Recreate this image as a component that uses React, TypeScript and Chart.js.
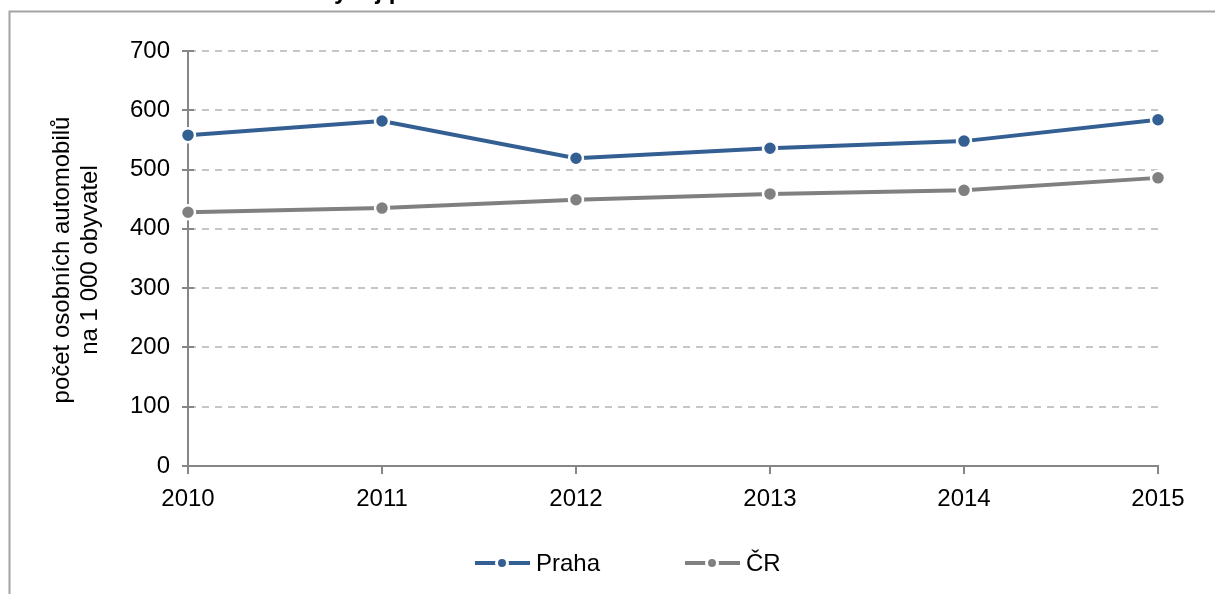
import { useEffect, useRef } from "react";
import { Chart, registerables } from "chart.js";

Chart.register(...registerables);

const years: string[] = ["2010", "2011", "2012", "2013", "2014", "2015"];
const prahaValues: number[] = [558, 582, 519, 536, 548, 584];
const crValues: number[] = [428, 435, 449, 459, 465, 486];
const seriesNames: string[] = ["Praha", "ČR"];
const seriesColors: string[] = ["#335f93", "#808080"];
const yTitleLines: string[] = ["počet osobních automobilů", "na 1 000 obyvatel"];
const chartTitle = "Vývoj počtu osobních automobilů v Praze a ČR";
const yMin = 0;
const yMax = 700;
const yStep = 100;

const FONT = "'Liberation Sans', Arial, sans-serif";
const AXIS_COLOR = "#868686";

const decorPlugin = {
  id: "decor",
  beforeDraw(chart: any) {
    const ctx = chart.ctx as CanvasRenderingContext2D;
    ctx.save();
    // outer frame (clipped by window)
    ctx.strokeStyle = "#a3a3a3";
    ctx.lineWidth = 2;
    ctx.beginPath();
    ctx.moveTo(9.5, 600);
    ctx.lineTo(9.5, 11.5);
    ctx.lineTo(1220, 11.5);
    ctx.stroke();
    // title, mostly above the visible window
    ctx.fillStyle = "#000";
    ctx.font = `bold 24px ${FONT}`;
    ctx.textBaseline = "alphabetic";
    ctx.textAlign = "left";
    ctx.fillText(chartTitle, 318, -1);
    // y axis title
    ctx.font = `24px ${FONT}`;
    ctx.textAlign = "center";
    ctx.textBaseline = "middle";
    const cy = 260;
    const xs = [62, 90];
    yTitleLines.forEach((line, i) => {
      ctx.save();
      ctx.translate(xs[i], cy);
      ctx.rotate(-Math.PI / 2);
      ctx.fillText(line, 0, 0);
      ctx.restore();
    });
    ctx.restore();
  },
  beforeDatasetsDraw(chart: any) {
    const ctx = chart.ctx as CanvasRenderingContext2D;
    const y = chart.scales.y;
    const left = chart.chartArea.left;
    ctx.save();
    ctx.strokeStyle = AXIS_COLOR;
    ctx.lineWidth = 2;
    y.ticks.forEach((t: any) => {
      const py = Math.round(y.getPixelForValue(t.value));
      ctx.beginPath();
      ctx.moveTo(left, py);
      ctx.lineTo(left + 6, py);
      ctx.stroke();
    });
    ctx.restore();
  },
  afterDraw(chart: any) {
    const ctx = chart.ctx as CanvasRenderingContext2D;
    ctx.save();
    const ly = 563;
    const starts = [475, 685];
    chart.data.datasets.forEach((ds: any, i: number) => {
      const x0 = starts[i];
      const color = ds.borderColor as string;
      ctx.strokeStyle = color;
      ctx.lineWidth = 4;
      ctx.beginPath();
      ctx.moveTo(x0, ly);
      ctx.lineTo(x0 + 55, ly);
      ctx.stroke();
      const cx = x0 + 27;
      ctx.fillStyle = "#fff";
      ctx.beginPath();
      ctx.arc(cx, ly, 7, 0, Math.PI * 2);
      ctx.fill();
      ctx.fillStyle = color;
      ctx.beginPath();
      ctx.arc(cx, ly, 4, 0, Math.PI * 2);
      ctx.fill();
      ctx.fillStyle = "#000";
      ctx.font = `24px ${FONT}`;
      ctx.textAlign = "left";
      ctx.textBaseline = "middle";
      ctx.fillText(ds.label, x0 + 61, ly + 1);
    });
    ctx.restore();
  },
};

export default function App() {
  const ref = useRef<HTMLCanvasElement | null>(null);

  useEffect(() => {
    if (!ref.current) return;
    const chart = new Chart(ref.current, {
      type: "line",
      data: {
        labels: years,
        datasets: [
          {
            label: seriesNames[0],
            data: prahaValues,
            borderColor: seriesColors[0],
            backgroundColor: seriesColors[0],
            pointBackgroundColor: seriesColors[0],
            pointBorderColor: "#ffffff",
            pointBorderWidth: 2.5,
            pointRadius: 7,
            borderWidth: 4,
            tension: 0,
            clip: false as any,
          },
          {
            label: seriesNames[1],
            data: crValues,
            borderColor: seriesColors[1],
            backgroundColor: seriesColors[1],
            pointBackgroundColor: seriesColors[1],
            pointBorderColor: "#ffffff",
            pointBorderWidth: 2.5,
            pointRadius: 7,
            borderWidth: 4,
            tension: 0,
            clip: false as any,
          },
        ],
      },
      options: {
        responsive: false,
        animation: false,
        devicePixelRatio: 1,
        layout: { padding: { left: 0, top: 51, right: 57, bottom: 78 } },
        plugins: {
          legend: { display: false },
          tooltip: { enabled: false },
          title: { display: false },
        },
        scales: {
          x: {
            type: "category",
            offset: false,
            afterFit: (s: any) => {
              s.height = 50;
            },
            grid: {
              display: true,
              drawOnChartArea: false,
              drawTicks: true,
              tickLength: 8,
              color: AXIS_COLOR,
              tickColor: AXIS_COLOR,
              lineWidth: 2,
            },
            border: { display: true, color: AXIS_COLOR, width: 2 },
            ticks: {
              color: "#000",
              font: { family: FONT, size: 24 },
              padding: 11,
              maxRotation: 0,
              autoSkip: false,
            },
          },
          y: {
            min: yMin,
            max: yMax,
            afterFit: (s: any) => {
              s.width = 188;
            },
            grid: {
              color: (c: any) => (c.tick && c.tick.value === 0 ? "rgba(0,0,0,0)" : "#c6c6c6"),
              tickColor: AXIS_COLOR,
              lineWidth: 2,
              tickLength: 6,
              drawTicks: true,
            },
            border: { display: true, color: AXIS_COLOR, width: 2, dash: [7, 6] },
            ticks: {
              stepSize: yStep,
              color: "#000",
              font: { family: FONT, size: 24 },
              padding: 12,
            },
          },
        },
      },
      plugins: [decorPlugin],
    });
    return () => chart.destroy();
  }, []);

  return (
    <div style={{ position: "fixed", left: 0, top: 0, width: 1215, height: 594, background: "#fff" }}>
      <canvas ref={ref} width={1215} height={594} style={{ width: 1215, height: 594, display: "block" }} />
    </div>
  );
}
